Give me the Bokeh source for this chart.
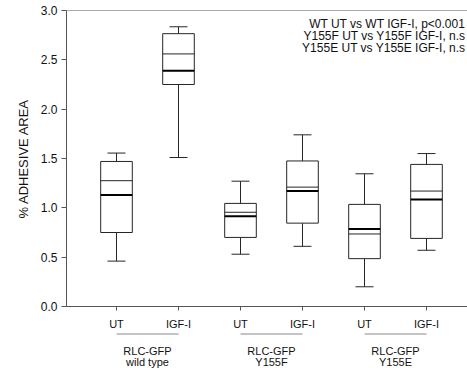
from bokeh.plotting import figure
from bokeh.models import Range1d, FixedTicker, Span, Label, NumeralTickFormatter
from bokeh.layouts import column
from bokeh.embed import file_html
from bokeh.resources import INLINE
from bokeh.core.properties import value

# ---- data ----
positions = [1, 2, 3, 4, 5, 6]
tick_labels = ["UT", "IGF-I", "UT", "IGF-I", "UT", "IGF-I"]
whisker_low = [0.46, 1.51, 0.53, 0.61, 0.20, 0.57]
q1 = [0.75, 2.25, 0.70, 0.845, 0.485, 0.69]
median = [1.275, 2.56, 0.955, 1.21, 0.735, 1.17]
mean = [1.13, 2.39, 0.915, 1.17, 0.785, 1.085]
q3 = [1.47, 2.765, 1.045, 1.475, 1.035, 1.44]
whisker_high = [1.555, 2.835, 1.27, 1.74, 1.345, 1.55]
y_ticks = [0.0, 0.5, 1.0, 1.5, 2.0, 2.5, 3.0]

group_start = [1, 3, 5]
group_end = [2, 4, 6]
group_line1 = ["RLC-GFP", "RLC-GFP", "RLC-GFP"]
group_line2 = ["wild type", "Y155F", "Y155E"]

stats_text = [
    "WT UT vs WT IGF-I, p<0.001",
    "Y155F UT vs Y155F IGF-I, n.s",
    "Y155E UT vs Y155E IGF-I, n.s",
]

FONT = "Liberation Sans"
AXIS_COL = "#555555"
BOX_COL = "#262626"
TEXT_COL = "#111111"

W = 467
H1 = 332
H2 = 36
LEFT = 66
TOP = 10
FRAME_BOTTOM = 306
PX_PER_UNIT = 62.0

box_w = 0.51
cap_half = 0.145

x_start = positions[0] - 50 / PX_PER_UNIT
x_range = Range1d(x_start, x_start + (W - LEFT) / PX_PER_UNIT)

p = figure(width=W, height=H1, x_range=x_range, y_range=Range1d(0, 3.0),
           output_backend="svg", toolbar_location=None,
           min_border_left=LEFT, min_border_right=0, min_border_top=TOP,
           min_border_bottom=H1 - FRAME_BOTTOM)
p.outline_line_color = None
p.xgrid.visible = False
p.ygrid.visible = False
p.background_fill_color = "white"
p.border_fill_color = "white"

# y axis
ya = p.yaxis[0]
ya.ticker = FixedTicker(ticks=y_ticks)
ya.formatter = NumeralTickFormatter(format="0.0")
ya.axis_label = "% ADHESIVE AREA"
ya.axis_label_text_font = FONT
ya.axis_label_text_font_size = "13px"
ya.axis_label_text_font_style = "normal"
ya.axis_label_text_color = TEXT_COL
ya.axis_label_standoff = 7
ya.major_label_text_font = FONT
ya.major_label_text_font_size = "12px"
ya.major_label_text_color = TEXT_COL
ya.major_label_standoff = 4
ya.major_tick_out = 5
ya.major_tick_in = 0
ya.minor_tick_line_color = None
ya.axis_line_color = AXIS_COL
ya.major_tick_line_color = AXIS_COL

# x axis
xa = p.xaxis[0]
xa.ticker = FixedTicker(ticks=positions)
xa.major_label_overrides = {pos: lab for pos, lab in zip(positions, tick_labels)}
xa.major_label_text_font = FONT
xa.major_label_text_font_size = "11px"
xa.major_label_text_color = TEXT_COL
xa.major_label_standoff = 7
xa.major_tick_out = 4
xa.major_tick_in = 0
xa.minor_tick_line_color = None
xa.axis_line_color = AXIS_COL
xa.major_tick_line_color = AXIS_COL

# top frame line
p.add_layout(Span(location=y_ticks[-1], dimension="width", line_color=AXIS_COL, line_width=1))

# boxes
p.segment(x0=positions, y0=q3, x1=positions, y1=whisker_high, line_color=BOX_COL, line_width=1)
p.segment(x0=positions, y0=q1, x1=positions, y1=whisker_low, line_color=BOX_COL, line_width=1)
p.segment(x0=[x - cap_half for x in positions], y0=whisker_high,
          x1=[x + cap_half for x in positions], y1=whisker_high, line_color=BOX_COL, line_width=1)
p.segment(x0=[x - cap_half for x in positions], y0=whisker_low,
          x1=[x + cap_half for x in positions], y1=whisker_low, line_color=BOX_COL, line_width=1)
p.vbar(x=positions, width=box_w, bottom=q1, top=q3, fill_color="white",
       line_color=BOX_COL, line_width=1)
p.segment(x0=[x - box_w / 2 for x in positions], y0=median,
          x1=[x + box_w / 2 for x in positions], y1=median, line_color=BOX_COL, line_width=1)
p.segment(x0=[x - box_w / 2 for x in positions], y0=mean,
          x1=[x + box_w / 2 for x in positions], y1=mean, line_color="black", line_width=2)

# stats annotation (screen units relative to the frame, right aligned near the right edge)
frame_h = FRAME_BOTTOM - TOP
for i, t in enumerate(stats_text):
    p.add_layout(Label(x=W - LEFT - 2, y=frame_h - 13 - 12 * i, x_units="screen", y_units="screen",
                       text=t, text_align="right", text_baseline="middle",
                       text_font=FONT, text_font_size="12px", text_color=TEXT_COL))

# group label strip
p2 = figure(width=W, height=H2, x_range=x_range, y_range=Range1d(H2, 0),
            output_backend="svg", toolbar_location=None,
            min_border_left=LEFT, min_border_right=0, min_border_top=0,
            min_border_bottom=0)
p2.outline_line_color = None
p2.axis.visible = False
p2.xgrid.visible = False
p2.ygrid.visible = False
p2.background_fill_color = "white"
p2.border_fill_color = "white"
p2.segment(x0=group_start, y0=[1.5] * 3, x1=group_end, y1=[1.5] * 3,
           line_color="#8a8a8a", line_width=1)
centers = [(a + b) / 2 for a, b in zip(group_start, group_end)]
p2.text(x=centers, y=[18.5] * 3, text=group_line1, text_align="center",
        text_baseline="middle", text_font=value(FONT), text_font_size="11px",
        text_color=TEXT_COL)
p2.text(x=centers, y=[29.5] * 3, text=group_line2, text_align="center",
        text_baseline="middle", text_font=value(FONT), text_font_size="11px",
        text_color=TEXT_COL)

layout = column(p, p2, spacing=0)
open("out.html", "w").write(file_html(layout, INLINE))
